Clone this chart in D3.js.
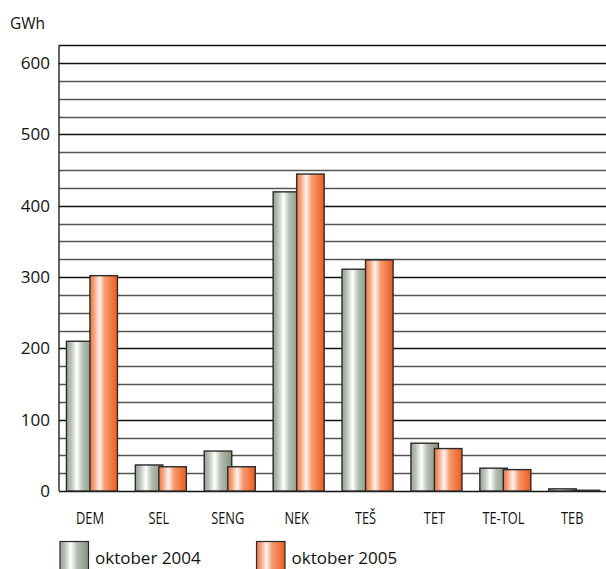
<!DOCTYPE html>
<html><head><meta charset="utf-8">
<script src="https://cdn.jsdelivr.net/npm/d3@7"></script>
<style>body{margin:0;background:#fff}svg{display:block}</style>
</head><body><svg id="c" width="606" height="569"></svg>
<script>
const categories = ["DEM","SEL","SENG","NEK","TEŠ","TET","TE-TOL","TEB"];
const oct2004 = [210, 36.5, 56, 419.5, 311, 67, 32, 3];
const oct2005 = [302, 34, 34, 444.5, 324, 59.5, 30, 1];
const seriesNames = ["oktober 2004","oktober 2005"];
const yTicks = [0,100,200,300,400,500,600];
const gridStep = 25, yMax = 625;

const svg = d3.select("#c");
const L = 59, R = 606, T = 45.3, B = 491;
const y = d3.scaleLinear().domain([0, yMax]).range([B, T]);
const x = d3.scaleBand().domain(categories).range([55.5, 606.7]).padding(0);

const defs = svg.append("defs");
function grad(id, stops){
  const g = defs.append("linearGradient").attr("id", id).attr("x1","0").attr("x2","1").attr("y1","0").attr("y2","0");
  stops.forEach(s => g.append("stop").attr("offset", s[0]).attr("stop-color", s[1]));
}
grad("gGray", [[0,"#98a495"],[0.15,"#b4bdb1"],[0.38,"#ffffff"],[0.6,"#b3bcb0"],[1,"#84927f"]]);
grad("gOrange", [[0,"#f07440"],[0.15,"#f6a27c"],[0.35,"#fff4ee"],[0.55,"#f69a70"],[1,"#ee5b1e"]]);

// grid
const gridVals = d3.range(0, yMax + 0.1, gridStep);
svg.append("g").selectAll("line").data(gridVals).join("line")
  .attr("x1", L).attr("x2", R)
  .attr("y1", d => Math.round(y(d)) + 0.5).attr("y2", d => Math.round(y(d)) + 0.5)
  .attr("stroke", d => d % 100 === 0 || d === yMax ? "#111" : "#555")
  .attr("stroke-width", 1.3);

// left axis
svg.append("line").attr("x1", L).attr("x2", L).attr("y1", y(yMax)).attr("y2", y(0))
  .attr("stroke", "#111").attr("stroke-width", 1.3);

// y tick labels
svg.append("g").selectAll("text").data(yTicks).join("text")
  .attr("x", 50).attr("y", d => y(d) + 6)
  .attr("text-anchor", "end")
  .attr("font-family", "Open Sans, sans-serif").attr("font-size", 17).attr("fill", "#111")
  .text(d => d);

svg.append("text").attr("x", 10).attr("y", 29)
  .attr("font-family", "Open Sans, sans-serif").attr("font-size", 15.5).attr("fill", "#111")
  .text("GWh");

const bw = 27.5;
const ctr = c => x(c) + x.bandwidth() / 2;
// bars
const gb = svg.append("g");
gb.selectAll("rect.g").data(categories).join("rect").attr("class","g")
  .attr("x", (c) => ctr(c) - 23.5).attr("width", bw)
  .attr("y", (c,i) => y(oct2004[i])).attr("height", (c,i) => y(0) - y(oct2004[i]))
  .attr("fill", "url(#gGray)").attr("stroke", "#2a2a2a").attr("stroke-width", 1.4);
gb.selectAll("rect.o").data(categories).join("rect").attr("class","o")
  .attr("x", (c) => ctr(c)).attr("width", bw)
  .attr("y", (c,i) => y(oct2005[i])).attr("height", (c,i) => y(0) - y(oct2005[i]))
  .attr("fill", "url(#gOrange)").attr("stroke", "#2a2a2a").attr("stroke-width", 1.4);

// x labels (condensed look)
svg.append("g").selectAll("text").data(categories).join("text")
  .attr("transform", c => `translate(${ctr(c)},524) scale(0.8,1)`)
  .attr("text-anchor", "middle")
  .attr("font-family", "Open Sans, sans-serif").attr("font-size", 16)
  .attr("fill", "#111").text(c => c);

// legend
const leg = [{x:60, fill:"url(#gGray)"},{x:256.5, fill:"url(#gOrange)"}];
leg.forEach((l, i) => {
  svg.append("rect").attr("x", l.x).attr("y", 541.5).attr("width", 28.5).attr("height", 30)
    .attr("fill", l.fill).attr("stroke", "#2a2a2a").attr("stroke-width", 1.2);
  svg.append("text").attr("x", l.x + 35).attr("y", 564)
    .attr("font-family", "Open Sans, sans-serif").attr("font-size", 17).attr("fill", "#111")
    .text(seriesNames[i]);
});
</script></body></html>
